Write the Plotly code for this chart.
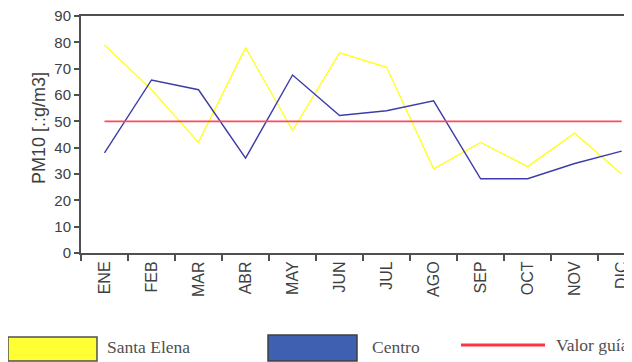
import plotly.graph_objects as go

months = ["ENE", "FEB", "MAR", "ABR", "MAY", "JUN", "JUL", "AGO", "SEP", "OCT", "NOV", "DIC"]
santa_elena = [79, 62, 42, 78, 46.5, 76, 70.5, 32, 42, 32.8, 45.5, 30]
centro = [38, 65.7, 62, 36, 67.6, 52.2, 54, 57.8, 28.2, 28.2, 34, 38.7]
valor_guia = [50] * 12
y_ticks = [0, 10, 20, 30, 40, 50, 60, 70, 80, 90]

# The page body adds an 8px offset; lay out the figure in page pixel terms.
OFF = 8
W, H = 632 - OFF, 362 - OFF
L, T, B = 81 - OFF, 16 - OFF, 253 - OFF

fig = go.Figure()
fig.add_trace(go.Scatter(x=months, y=santa_elena, mode="lines", name="Santa Elena",
                         line=dict(color="#ffff1a", width=1.3)))
fig.add_trace(go.Scatter(x=months, y=centro, mode="lines", name="Centro",
                         line=dict(color="#3c3ca8", width=1.4)))
fig.add_trace(go.Scatter(x=months, y=valor_guia, mode="lines", name="Valor guía",
                         line=dict(color="#ff4a5a", width=1.6)))

fig.update_layout(
    width=W, height=H,
    margin=dict(l=L, r=0, t=T, b=H - B, autoexpand=False),
    paper_bgcolor="white", plot_bgcolor="white",
    showlegend=False,
    xaxis=dict(type="category", range=[-0.5, 11.22], tickson="boundaries", automargin=False,
               showline=True, linecolor="#505050", linewidth=2, mirror=True,
               ticks="outside", ticklen=6, tickcolor="#505050", tickwidth=1.5,
               tickangle=-90, tickfont=dict(family="Liberation Sans, Arial", size=16, color="#404040"),
               ticklabeloverflow="allow", showgrid=False),
    yaxis=dict(range=[0, 90], tickvals=y_ticks, showline=True, linecolor="#505050", automargin=False,
               linewidth=2, ticks="outside", ticklen=5, tickcolor="#505050", tickwidth=1.5,
               tickfont=dict(family="Liberation Sans, Arial", size=15, color="#404040"),
               ticklabeloverflow="allow", showgrid=False, zeroline=False),
)


def px(x):
    return (x - OFF - L) / (W - L)


def py(y):
    return (B - (y - OFF)) / (B - T)


# y-axis title as rotated annotation
fig.add_annotation(xref="paper", yref="paper", x=px(39), y=py(128),
                   text="PM10 [.:g/m3]", textangle=-90, showarrow=False, xanchor="center", yanchor="middle",
                   font=dict(family="Liberation Sans, Arial", size=18, color="#404040"))

# Manual legend
legend_font = dict(family="Liberation Serif, Times New Roman", size=17.5, color="#505050")
fig.add_shape(type="rect", xref="paper", yref="paper", x0=px(8), x1=px(97), y0=py(361), y1=py(337),
              fillcolor="#ffff33", line=dict(color="#505050", width=1.5))
fig.add_shape(type="rect", xref="paper", yref="paper", x0=px(268), x1=px(357), y0=py(361), y1=py(335),
              fillcolor="#3f5fb0", line=dict(color="#404040", width=1.5))
fig.add_shape(type="line", xref="paper", yref="paper", x0=px(461), x1=px(545), y0=py(345), y1=py(345),
              line=dict(color="#ff3344", width=3))
for x, y, txt in [(105, 347, "Santa Elena"), (370, 347, "Centro"), (554, 345, "Valor guía")]:
    fig.add_annotation(xref="paper", yref="paper", x=px(x), y=py(y), text=txt, showarrow=False,
                       xanchor="left", yanchor="middle", font=legend_font)

fig.write_html("out.html")
